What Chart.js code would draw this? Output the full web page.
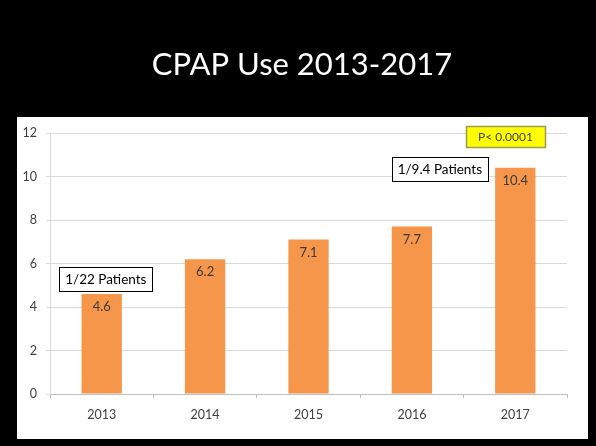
<!DOCTYPE html>
<html>
<head>
<meta charset="utf-8">
<script src="https://cdn.jsdelivr.net/npm/chart.js@4.4.0/dist/chart.umd.min.js"></script>
<style>
  html, body { margin: 0; padding: 0; background: #000; }
  #wrap { width: 596px; height: 446px; position: relative; }
</style>
</head>
<body>
<div id="wrap"><canvas id="cpap-chart" width="596" height="446"></canvas></div>
<script>
// Chart data
var years = ["2013", "2014", "2015", "2016", "2017"];
var cpapUse = [4.6, 6.2, 7.1, 7.7, 10.4];
var yTicks = [0, 2, 4, 6, 8, 10, 12];
var titleText = "CPAP Use 2013-2017";

// Callout boxes: text, anchor category (fractional index) and value at the box bottom
var notes = [
    { text: "1/22 Patients", at: 0.04, value: 4.74, w: 93, h: 24, style: "plain" },
    { text: "1/9.4 Patients", at: 3.27, value: 9.79, w: 96, h: 24, style: "plain" },
    { text: "P< 0.0001", at: 3.905, value: 11.36, w: 79, h: 21, style: "yellow" }
];

var FONT = "Lato, 'Open Sans', sans-serif";

// background, white panel and slide title
var slidePlugin = {
    id: "slide",
    beforeDraw: function (chart) {
        var c = chart.ctx;
        c.save();
        c.fillStyle = "#000";
        c.fillRect(0, 0, chart.width, chart.height);
        c.fillStyle = "#fff";
        c.fillRect(17, 117, 571, 322);
        c.fillStyle = "#fff";
        c.font = "31px " + FONT;
        c.textAlign = "center";
        c.textBaseline = "middle";
        c.fillText(titleText, 302, 65);
        c.restore();
    }
};

// values inside top of bars + callout boxes
var labelPlugin = {
    id: "labels",
    afterDatasetsDraw: function (chart) {
        var c = chart.ctx;
        var meta = chart.getDatasetMeta(0);
        var xs = chart.scales.x, ys = chart.scales.y;
        c.save();
        c.font = "13px " + FONT;
        c.fillStyle = "#3a3a3a";
        c.textAlign = "center";
        c.textBaseline = "middle";
        meta.data.forEach(function (bar, i) {
            c.fillText(String(cpapUse[i]), bar.x, bar.y + 13);
        });

        var step = xs.getPixelForValue(1) - xs.getPixelForValue(0);
        notes.forEach(function (n) {
            var cx = xs.getPixelForValue(0) + n.at * step;
            var bottom = ys.getPixelForValue(n.value);
            var x = Math.round(cx - n.w / 2) + 0.5, y = Math.round(bottom - n.h) + 0.5;
            if (n.style === "yellow") {
                c.fillStyle = "#ffff00";
                c.fillRect(x, y, n.w, n.h);
                c.strokeStyle = "#9a9a50";
                c.lineWidth = 1.5;
                c.strokeRect(x, y, n.w, n.h);
                c.fillStyle = "#404040";
                c.font = "12px " + FONT;
            } else {
                c.fillStyle = "#fff";
                c.fillRect(x, y, n.w, n.h);
                c.strokeStyle = "#000";
                c.lineWidth = 1;
                c.strokeRect(x, y, n.w, n.h);
                c.fillStyle = "#000";
                c.font = "13.5px " + FONT;
            }
            c.fillText(n.text, cx, y + n.h / 2 + 0.5);
        });
        c.restore();
    }
};

var chartData = {
    labels: years,
    datasets: [{
        label: "CPAP use",
        data: cpapUse,
        backgroundColor: "#F5964A",
        barPercentage: 0.39,
        categoryPercentage: 1.0
    }]
};

var chartOptions = {
    responsive: false,
    animation: false,
    layout: { padding: { top: 133, right: 29, bottom: 0, left: 0 } },
    plugins: {
        legend: { display: false },
        title: { display: false },
        tooltip: { enabled: false }
    },
    scales: {
        x: {
            offset: true,
            grid: {
                offset: true,
                drawOnChartArea: false,
                drawTicks: true,
                tickLength: 4,
                color: "#bfbfbf"
            },
            border: { color: "#bfbfbf" },
            ticks: {
                color: "#404040",
                font: { family: FONT, size: 12.5 },
                padding: 9
            },
            afterFit: function (s) { s.height = 52; }
        },
        y: {
            min: 0,
            max: 12,
            afterBuildTicks: function (s) {
                s.ticks = yTicks.map(function (v) { return { value: v }; });
            },
            grid: {
                color: "#d9d9d9",
                tickLength: 4
            },
            border: { color: "#d9d9d9" },
            ticks: {
                color: "#404040",
                font: { family: FONT, size: 12.5 },
                padding: 9
            },
            afterFit: function (s) { s.width = 50; }
        }
    }
};

var ctx = document.getElementById("cpap-chart");
var cpapChart = new Chart(ctx, {
    type: "bar",
    data: chartData,
    options: chartOptions,
    plugins: [slidePlugin, labelPlugin]
});
</script>
</body>
</html>
